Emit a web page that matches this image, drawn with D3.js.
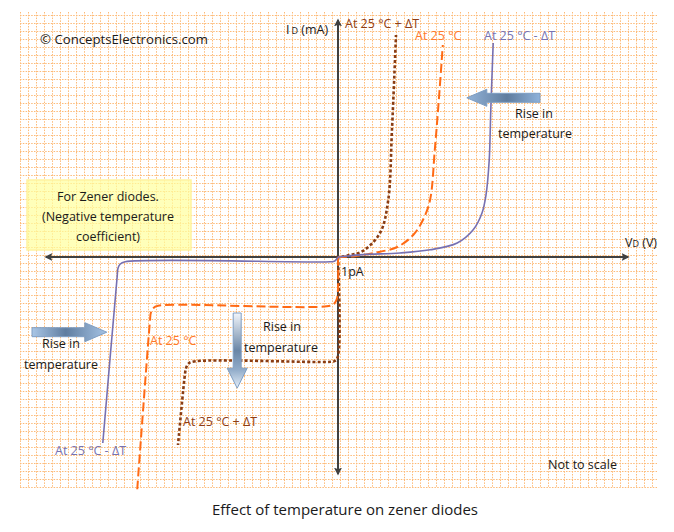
<!DOCTYPE html>
<html><head><meta charset="utf-8">
<script src="https://cdn.jsdelivr.net/npm/d3@7"></script>
<style>
html,body{margin:0;padding:0;background:#fff;}
svg text{font-family:"Open Sans","Noto Sans",sans-serif;}
</style></head>
<body>
<svg id="chart" width="674" height="532"></svg>
<script>
// ---- data (units: 1 unit = one grid cell; origin = 0V / 0mA) ----
const seriesNames = ["At 25 °C + ΔT", "At 25 °C", "At 25 °C - ΔT"];
const forwardHot = [[-0.2,-0.1],[1.5,0.25],[3.1,0.75],[5.25,3],[6.25,6.9],[6.75,16],[7.25,27.75]];
const forwardRoom = [[0,0],[2.1,0.1],[4.4,0.5],[7.4,1.25],[9.4,2.75],[10.6,4.6],[11.5,7.1],[12.1,13.4],[12.6,19.6],[13.1,26.5]];
const forwardCold = [[0,0],[3.1,0.3],[7.75,0.5],[11.5,0.9],[14.9,1.75],[16.9,3.4],[18,5.5],[18.5,7.75],[18.9,12.1],[19.1,18.4],[19.4,26.75]];
const reverseHot = [[0,0],[0,-12.4],[-0.4,-13],[-0.9,-13.1],[-18.25,-13.1],[-18.75,-13.4],[-19,-13.9],[-19.1,-14.4],[-20,-23.5]];
const reverseRoom = [[0,0],[-0.1,-5.1],[-0.4,-5.75],[-1,-6.1],[-22.5,-6.1],[-23.1,-6.4],[-23.4,-7],[-23.5,-7.9],[-25.1,-29.1]];
const reverseCold = [[0,0],[-0.4,-0.5],[-1,-0.6],[-26.6,-0.6],[-27.25,-0.9],[-27.5,-1.4],[-27.6,-2.4],[-29.4,-23.25]];
const axisLabels = ["I", "D", " (mA)", "V", "D", " (V)", "1pA"];

const svg = d3.select("#chart");
const x = d3.scaleLinear().domain([-40, 40]).range([18, 658]);
const y = d3.scaleLinear().domain([-28.75, 30.625]).range([487, 12]);

// ---- grid ----
const gx = d3.range(-39.75, 40, 1), gy = d3.range(-28.75, 30.7, 1);
const grid = svg.append("g").attr("stroke", "#fdbb78").attr("stroke-width", 1).attr("stroke-dasharray", "1.5,1.3");
grid.selectAll("line.v").data(gx).join("line")
  .attr("x1", d => Math.round(x(d)) + 0.5).attr("x2", d => Math.round(x(d)) + 0.5)
  .attr("y1", 12).attr("y2", 487);
grid.selectAll("line.h").data(gy).join("line")
  .attr("y1", d => Math.round(y(d)) + 0.5).attr("y2", d => Math.round(y(d)) + 0.5)
  .attr("x1", 20).attr("x2", 657);

// ---- defs ----
const defs = svg.append("defs");
function grad(id, x1, y1, x2, y2, stops) {
  const g = defs.append("linearGradient").attr("id", id).attr("x1", x1).attr("y1", y1).attr("x2", x2).attr("y2", y2);
  stops.forEach(s => g.append("stop").attr("offset", s[0]).attr("stop-color", s[1]));
}
grad("gL", "0", "0", "1", "0", [["0", "#a9c6e6"], ["0.45", "#5f7da0"], ["1", "#a5c3e4"]]);
grad("gR", "0", "0", "1", "0", [["0", "#93b3d8"], ["0.55", "#5f7c9e"], ["1", "#8fb2da"]]);
grad("gD", "0", "0", "0", "1", [["0", "#f2f6fb"], ["0.5", "#6a86a6"], ["0.75", "#90abc9"], ["1", "#e5eef8"]]);
defs.append("marker").attr("id", "ah").attr("viewBox", "0 0 10 10").attr("refX", 8).attr("refY", 5)
  .attr("markerWidth", 4).attr("markerHeight", 4).attr("orient", "auto-start-reverse")
  .append("path").attr("d", "M0,0 L10,5 L0,10 L2,5 Z").attr("fill", "#404040");

// ---- yellow note box ----
svg.append("rect").attr("x", 27).attr("y", 180).attr("width", 164).attr("height", 70)
  .attr("fill", "#ffff9c").attr("fill-opacity", 0.7).attr("stroke", "#fff3a0").attr("stroke-width", 1.5);
const noteLines = ["For Zener diodes.", "(Negative temperature", "coefficient)"];
svg.append("g").selectAll("text").data(noteLines).join("text")
  .attr("x", 108).attr("y", (d, i) => 201 + i * 20).attr("text-anchor", "middle")
  .attr("font-size", 12.5).attr("fill", "#1a1a1a").text(d => d);

// ---- axes ----
svg.append("line").attr("x1", x(0)).attr("x2", x(0)).attr("y1", 474).attr("y2", 20)
  .attr("stroke", "#404040").attr("stroke-width", 2).attr("marker-end", "url(#ah)").attr("marker-start", "url(#ah)");
svg.append("line").attr("x1", 46).attr("x2", 628).attr("y1", y(0)).attr("y2", y(0))
  .attr("stroke", "#404040").attr("stroke-width", 2).attr("marker-end", "url(#ah)").attr("marker-start", "url(#ah)");

// ---- curves ----
const line = d3.line().x(d => x(d[0])).y(d => y(d[1])).curve(d3.curveCatmullRom.alpha(0.5));
const styles = [
  {data: [forwardHot, reverseHot], color: "#8a3c12", w: 2.6, dash: "3,2.2"},
  {data: [forwardRoom, reverseRoom], color: "#ff6a14", w: 2, dash: "9,4"},
  {data: [forwardCold, reverseCold], color: "#7670b2", w: 1.6, dash: null}
];
styles.forEach(s => {
  svg.append("g").selectAll("path").data(s.data).join("path")
    .attr("d", line).attr("fill", "none").attr("stroke", s.color).attr("stroke-width", s.w)
    .attr("stroke-dasharray", s.dash);
});

// ---- block arrows ----
function hArrow(tip, tail, cy, bh, hh, hl, fill) {
  const dir = Math.sign(tail - tip);
  const hb = tip + dir * hl;
  const pts = [[tip, cy], [hb, cy - hh], [hb, cy - bh], [tail, cy - bh], [tail, cy + bh], [hb, cy + bh], [hb, cy + hh]];
  svg.append("path").attr("d", "M" + pts.join("L") + "Z").attr("fill", fill).attr("stroke", "#7e9ec4").attr("stroke-width", 1);
}
hArrow(x(16.1), x(25.25), y(19.9), 4.5, 8.5, 20, "url(#gR)");
hArrow(x(-28.9), x(-38.25), y(-9.4), 4.5, 9.5, 22, "url(#gL)");
(function () {
  const cx = x(-12.6), top = y(-7), tip = y(-16.4), bw = 4, hw = 10, hb = tip - 20;
  const pts = [[cx, tip], [cx - hw, hb], [cx - bw, hb], [cx - bw, top], [cx + bw, top], [cx + bw, hb], [cx + hw, hb]];
  svg.append("path").attr("d", "M" + pts.join("L") + "Z").attr("fill", "url(#gD)").attr("stroke", "#7e9ec4").attr("stroke-width", 1);
})();

// ---- texts ----
function txt(t, xx, yy, color, size, anchor) {
  return svg.append("text").attr("x", xx).attr("y", yy).attr("fill", color || "#1a1a1a")
    .attr("font-size", size || 12.5).attr("text-anchor", anchor || "start").text(t);
}
txt("© ConceptsElectronics.com", 40, 44, "#1a1a1a", 13.2);
// axis labels
const yl = svg.append("text").attr("x", 286).attr("y", 34).attr("fill", "#1a1a1a").attr("font-size", 12.5);
yl.append("tspan").text(axisLabels[0]);
yl.append("tspan").attr("font-size", 9).attr("dx", 2).text(axisLabels[1]);
yl.append("tspan").text(axisLabels[2]);
const xl = svg.append("text").attr("x", 625).attr("y", 247).attr("fill", "#1a1a1a").attr("font-size", 12.5);
xl.append("tspan").text(axisLabels[3]);
xl.append("tspan").attr("font-size", 9).text(axisLabels[4]);
xl.append("tspan").text(axisLabels[5]);
txt(axisLabels[6], 341, 276);
// series labels
const colors = ["#8f3d14", "#ff7a2a", "#7673b3"];
txt(seriesNames[0], 345, 28, colors[0]);
txt(seriesNames[1], 415, 40, colors[1]);
txt(seriesNames[2], 484, 40, colors[2]);
txt(seriesNames[1], 150, 345, colors[1]);
txt(seriesNames[0], 183, 426, colors[0]);
txt(seriesNames[2], 55, 455, colors[2]);
// rise in temperature
txt("Rise in", 534, 118, null, 12.5, "middle");
txt("temperature", 535, 138, null, 12.5, "middle");
txt("Rise in", 61, 348, null, 12.5, "middle");
txt("temperature", 61, 369, null, 12.5, "middle");
txt("Rise in", 282, 331, null, 12.5, "middle");
txt("temperature", 281, 352, null, 12.5, "middle");
txt("Not to scale", 548, 469, null, 12.5);
txt("Effect of temperature on zener diodes", 345, 515, null, 15, "middle");
</script>
</body></html>
